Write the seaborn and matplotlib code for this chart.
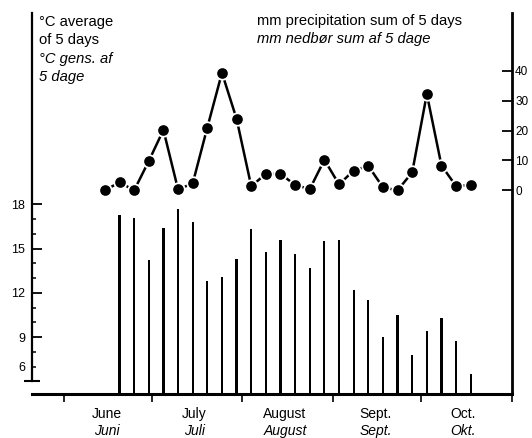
import matplotlib
matplotlib.use("Agg")
import matplotlib.pyplot as plt
import seaborn as sns

sns.set_style("ticks", {"axes.edgecolor": "black", "xtick.color": "black",
                        "ytick.color": "black", "text.color": "black"})
plt.rcParams["font.family"] = ["Liberation Sans", "DejaVu Sans"]

# 5-day periods, x = day of year at the middle of each period
precip_day = list(range(166, 292, 5))
precip_mm = [0, 2.7, 0, 9.8, 20.2, 0.3, 2.3, 21.0, 39.3, 23.9,
             1.4, 5.5, 5.5, 1.8, 0.4, 10.2, 2.0, 6.6, 8.2, 1.0,
             0, 6.0, 32.2, 8.3, 1.4, 1.8]

temp_day = list(range(171, 292, 5))
temp_c = [17.3, 17.1, 14.2, 16.4, 17.7, 16.8, 12.8, 13.1, 14.3, 16.3,
          14.8, 15.6, 14.6, 13.7, 15.5, 15.6, 12.2, 11.5, 9.0, 10.5,
          7.8, 9.4, 10.3, 8.7, 6.5]

# first day of each month (day of year), June .. November
month_start = [152, 182, 213, 244, 274, 305]
month_en = ["June", "July", "August", "Sept.", "Oct."]
month_da = ["Juni", "Juli", "August", "Sept.", "Okt."]

temp_ticks = [9, 12, 15, 18]
temp_minor = [7, 8, 10, 11, 13, 14, 16, 17]
precip_ticks = [0, 10, 20, 30, 40]

W, H = 532, 438
fig = plt.figure(figsize=(W / 100, H / 100), dpi=100)
left, right, top, bottom = 32.3, 511.7, 13, 394
ax_t = fig.add_axes([left / W, 1 - bottom / H, (right - left) / W, (bottom - top) / H])
ax_p = ax_t.twinx()

# temperature: thin vertical bars
sns.barplot(x=temp_day, y=temp_c, native_scale=True, width=0.15,
            color="black", linewidth=0, saturation=1, ax=ax_t)

# precipitation: dots joined by lines
sns.lineplot(x=precip_day, y=precip_mm, ax=ax_p, color="black", lw=1.8,
             marker="o", ms=9.0, mec="white", mew=1.3)

x0, x1 = 141.2, 305
ax_t.set_xlim(x0, x1)
ax_t.set_ylim(5.14, 30.97)
ax_p.set_ylim(-68.1, 59.3)

# spines
for s in ["top", "right"]:
    ax_t.spines[s].set_visible(False)
for s in ["top", "left", "bottom"]:
    ax_p.spines[s].set_visible(False)
ax_p.spines["right"].set_linewidth(2.0)
ax_t.spines["left"].set_bounds(6, 30.97)
ax_t.spines["left"].set_linewidth(1.6)
ax_t.spines["bottom"].set_linewidth(2.2)

# x axis: month boundaries, names centred in each month
ax_t.set_xticks(month_start)
ax_t.set_xticklabels([])
ax_t.tick_params(axis="x", direction="out", length=6, width=1.2)
for m0, en, da in zip(month_start[:-1], month_en, month_da):
    xm = m0 + 14.5
    ax_t.annotate(en, xy=(xm, 0), xycoords=("data", "axes fraction"),
                  xytext=(0, -24), textcoords="offset pixels",
                  ha="center", va="baseline", fontsize=10)
    ax_t.annotate(da, xy=(xm, 0), xycoords=("data", "axes fraction"),
                  xytext=(0, -41), textcoords="offset pixels",
                  ha="center", va="baseline", fontsize=10, style="italic")

# left axis: temperature
ax_t.set_yticks(temp_ticks)
ax_t.set_yticks(temp_minor, minor=True)
ax_t.tick_params(axis="y", which="major", direction="in", length=7.5,
                 width=1.3, labelsize=9, pad=5)
ax_t.tick_params(axis="y", which="minor", direction="in", length=3.2, width=1.1)
ax_t.plot([x0], [6], marker="_", ms=11, mew=1.5, color="black", clip_on=False)
ax_t.annotate("6", xy=(0, 6), xycoords=("axes fraction", "data"),
              xytext=(-7, 13), textcoords="offset pixels",
              ha="right", va="center", fontsize=9)

# right axis: precipitation
ax_p.set_yticks(precip_ticks)
ax_p.tick_params(axis="y", direction="in", length=7, width=1.3,
                 labelsize=8.5, pad=2.5)
ax_t.set_xlabel("")
ax_t.set_ylabel("")
ax_p.set_ylabel("")

# headings
def head(x, y, s, italic=False):
    fig.text(x / W, 1 - y / H, s, fontsize=10.6, va="baseline", ha="left",
             style="italic" if italic else "normal")

head(39, 26, "°C average")
head(39, 44.3, "of 5 days")
head(39, 63, "°C gens. af", True)
head(39, 80.7, "5 dage", True)
head(257, 25, "mm precipitation sum of 5 days")
head(257, 42.7, "mm nedbør sum af 5 dage", True)

fig.savefig("out.png", dpi=100)
